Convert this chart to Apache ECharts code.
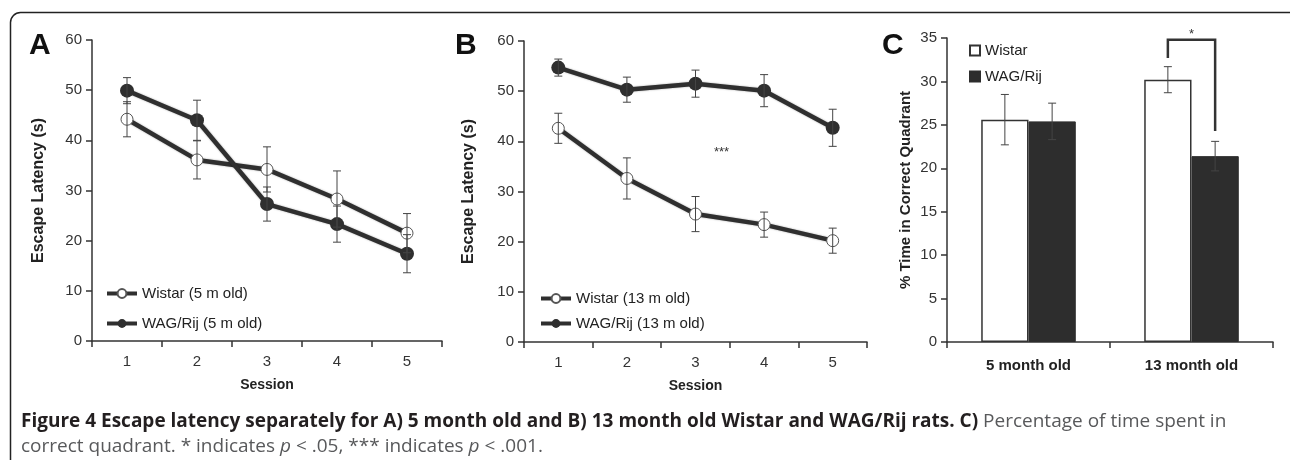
<!DOCTYPE html>
<html>
<head>
<meta charset="utf-8">
<script src="https://cdn.jsdelivr.net/npm/echarts@6/dist/echarts.min.js"></script>
<style>
html,body{margin:0;padding:0;background:#fff;}
#chart{width:1290px;height:460px;}
</style>
</head>
<body>
<div id="chart"></div>
<script>
// ---- data ----
const sessions = ['1', '2', '3', '4', '5'];
const latencyTicks = [0, 10, 20, 30, 40, 50, 60];

const aWistar = [44.2, 36.1, 34.2, 28.3, 21.5];
const aWistarErr = [3.5, 3.8, 4.5, 5.6, 3.9];
const aWag = [49.9, 44.0, 27.3, 23.3, 17.4];
const aWagErr = [2.6, 4.0, 3.4, 3.6, 3.8];

const bWistar = [42.6, 32.6, 25.5, 23.4, 20.2];
const bWistarErr = [3.0, 4.1, 3.5, 2.5, 2.5];
const bWag = [54.7, 50.3, 51.5, 50.1, 42.7];
const bWagErr = [1.7, 2.5, 2.7, 3.2, 3.7];

const ages = ['5 month old', '13 month old'];
const cWistar = [25.6, 30.2];
const cWistarErr = [2.9, 1.5];
const cWag = [25.4, 21.4];
const cWagErr = [2.1, 1.7];

// significance annotations
const sigB = { label: '***', category: 2, shift: 0.38, value: 37.8 };
const sigC = { label: '*', category: 1, top: 34.8, leftEnd: 32.7, rightEnd: 24.3 };

// ---- styling ----
const FONT = '"Liberation Sans", Arial, sans-serif';
const INK = '#2f2f2f';
const BAR_GAP_CAT = 0.42;

function errData(vals, errs) { return vals.map((v, i) => [i, v, errs[i]]); }

function errRender(offsetSign, cap) {
  return function (params, api) {
    const i = api.value(0), v = api.value(1), e = api.value(2);
    let dx = 0;
    if (offsetSign !== 0) {
      const band = api.size([1, 0])[0];
      dx = offsetSign * band * (1 - BAR_GAP_CAT) / 4;
    }
    const t = api.coord([i, v + e]), b = api.coord([i, v - e]);
    const x = t[0] + dx;
    const st = { stroke: '#444', lineWidth: 1 };
    return { type: 'group', children: [
      { type: 'line', shape: { x1: x, y1: t[1], x2: x, y2: b[1] }, style: st },
      { type: 'line', shape: { x1: x - cap, y1: t[1], x2: x + cap, y2: t[1] }, style: st },
      { type: 'line', shape: { x1: x - cap, y1: b[1], x2: x + cap, y2: b[1] }, style: st }
    ]};
  };
}

function lineSeries(name, data, idx, filled) {
  return {
    type: 'line', name: name, data: data, xAxisIndex: idx, yAxisIndex: idx,
    symbol: 'circle', symbolSize: filled ? 14 : 12,
    lineStyle: { color: INK, width: 4.5, shadowBlur: 2, shadowColor: 'rgba(0,0,0,0.35)' },
    itemStyle: filled ? { color: INK, borderColor: INK, borderWidth: 0 }
                      : { color: '#fff', borderColor: '#555', borderWidth: 1 },
    z: 3, animation: false
  };
}
function errSeries(vals, errs, idx, sign, cap) {
  return { type: 'custom', xAxisIndex: idx, yAxisIndex: idx, data: errData(vals, errs),
    renderItem: errRender(sign, cap), z: 5, silent: true, animation: false };
}

const axisLineStyle = { lineStyle: { color: '#333', width: 1.5 } };
const tickLabel = { color: '#333', fontSize: 15, fontFamily: FONT };

function latencyY(idx, gap) {
  return { type: 'value', gridIndex: idx, min: latencyTicks[0], max: latencyTicks[latencyTicks.length - 1], interval: 10,
    name: 'Escape Latency (s)', nameLocation: 'middle', nameGap: gap,
    nameTextStyle: { fontWeight: 'bold', fontSize: 16, color: '#222', fontFamily: FONT },
    axisLine: Object.assign({ show: true }, axisLineStyle), axisTick: { show: true, length: 6, lineStyle: { color: '#333', width: 1.5 } },
    axisLabel: Object.assign({ margin: 10 }, tickLabel), splitLine: { show: false } };
}
function sessionX(idx) {
  return { type: 'category', gridIndex: idx, data: sessions, boundaryGap: true,
    name: 'Session', nameLocation: 'middle', nameGap: 37,
    nameTextStyle: { fontWeight: 'bold', fontSize: 14, color: '#222', fontFamily: FONT },
    axisLine: axisLineStyle, axisTick: { show: true, length: 6, lineStyle: { color: '#333', width: 1.5 } },
    axisLabel: Object.assign({ margin: 13 }, tickLabel) };
}
const legendText = { fontSize: 15, color: '#222', fontFamily: FONT };

const option = {
  backgroundColor: '#fff',
  animation: false,
  textStyle: { fontFamily: FONT },
  grid: [
    { left: 92, top: 40, width: 350, height: 301 },
    { left: 524, top: 41, width: 343, height: 301 },
    { left: 947, top: 38, width: 326, height: 304 }
  ],
  xAxis: [
    sessionX(0),
    sessionX(1),
    { type: 'category', gridIndex: 2, data: ages, boundaryGap: true,
      axisLine: axisLineStyle, axisTick: { show: true, length: 6, lineStyle: { color: '#333', width: 1.5 } },
      axisLabel: { margin: 16, color: '#222', fontSize: 15, fontWeight: 'bold', fontFamily: FONT } }
  ],
  yAxis: [
    latencyY(0, 45),
    latencyY(1, 47),
    { type: 'value', gridIndex: 2, min: 0, max: 35, interval: 5,
      name: '% Time in Correct Quadrant', nameLocation: 'middle', nameGap: 34,
      nameTextStyle: { fontWeight: 'bold', fontSize: 15, color: '#222', fontFamily: FONT },
      axisLine: Object.assign({ show: true }, axisLineStyle), axisTick: { show: true, length: 6, lineStyle: { color: '#333', width: 1.5 } },
      axisLabel: Object.assign({ margin: 10 }, tickLabel), splitLine: { show: false } }
  ],
  legend: [
    { data: ['Wistar (5 m old)', 'WAG/Rij (5 m old)'], orient: 'vertical', left: 100, top: 281,
      itemWidth: 30, itemHeight: 11, itemGap: 15, lineStyle: { width: 4 }, textStyle: legendText },
    { data: ['Wistar (13 m old)', 'WAG/Rij (13 m old)'], orient: 'vertical', left: 534, top: 286,
      itemWidth: 30, itemHeight: 11, itemGap: 10, lineStyle: { width: 4 }, textStyle: legendText },
    { data: ['Wistar', 'WAG/Rij'], orient: 'vertical', left: 964, top: 38, icon: 'rect',
      itemWidth: 10, itemHeight: 10, itemGap: 11, textStyle: legendText }
  ],
  series: [
    lineSeries('Wistar (5 m old)', aWistar, 0, false),
    lineSeries('WAG/Rij (5 m old)', aWag, 0, true),
    errSeries(aWistar, aWistarErr, 0, 0, 4),
    errSeries(aWag, aWagErr, 0, 0, 4),

    lineSeries('Wistar (13 m old)', bWistar, 1, false),
    lineSeries('WAG/Rij (13 m old)', bWag, 1, true),
    errSeries(bWistar, bWistarErr, 1, 0, 4),
    errSeries(bWag, bWagErr, 1, 0, 4),
    { type: 'custom', xAxisIndex: 1, yAxisIndex: 1, data: [[sigB.category, sigB.value]], silent: true, z: 6,
      renderItem: function (params, api) {
        const p = api.coord([api.value(0), api.value(1)]);
        const band = api.size([1, 0])[0];
        return { type: 'text', style: { x: p[0] + sigB.shift * band, y: p[1], text: sigB.label, fill: '#333',
          font: '13px ' + FONT, align: 'center', verticalAlign: 'middle' } };
      } },

    { type: 'bar', name: 'Wistar', data: cWistar, xAxisIndex: 2, yAxisIndex: 2,
      barGap: '0%', barCategoryGap: (BAR_GAP_CAT * 100) + '%',
      itemStyle: { color: '#fff', borderColor: '#333', borderWidth: 1.5 }, z: 2 },
    { type: 'bar', name: 'WAG/Rij', data: cWag, xAxisIndex: 2, yAxisIndex: 2,
      barGap: '0%', barCategoryGap: (BAR_GAP_CAT * 100) + '%',
      itemStyle: { color: '#2d2d2d', borderColor: '#2d2d2d', borderWidth: 1 }, z: 2 },
    errSeries(cWistar, cWistarErr, 2, -1, 4),
    errSeries(cWag, cWagErr, 2, 1, 4),
    { type: 'custom', xAxisIndex: 2, yAxisIndex: 2, silent: true, z: 6,
      data: [[sigC.category, sigC.top, sigC.leftEnd, sigC.rightEnd]],
      renderItem: function (params, api) {
        const c = api.value(0);
        const band = api.size([1, 0])[0];
        const off = band * (1 - BAR_GAP_CAT) / 4;
        const cx = api.coord([c, 0])[0];
        const yt = api.coord([c, api.value(1)])[1];
        const yl = api.coord([c, api.value(2)])[1];
        const yr = api.coord([c, api.value(3)])[1];
        return { type: 'group', children: [
          { type: 'polyline', shape: { points: [[cx - off, yl], [cx - off, yt], [cx + off, yt], [cx + off, yr]] },
            style: { stroke: '#333', lineWidth: 2.5, fill: null } },
          { type: 'text', style: { x: cx, y: yt - 5, text: sigC.label, fill: '#333', font: '13px ' + FONT,
            align: 'center', verticalAlign: 'middle' } }
        ]};
      } }
  ],
  graphic: [
    { type: 'rect', shape: { x: 10.5, y: 12.5, width: 1300, height: 470, r: 10 },
      style: { stroke: '#222', lineWidth: 1.5, fill: null }, silent: true },
    { type: 'text', left: 29, top: 31, style: { text: 'A', font: 'bold 30px ' + FONT, fill: '#111' } },
    { type: 'text', left: 455, top: 31, style: { text: 'B', font: 'bold 30px ' + FONT, fill: '#111' } },
    { type: 'text', left: 882, top: 31, style: { text: 'C', font: 'bold 30px ' + FONT, fill: '#111' } },
    { type: 'text', left: 21, top: 409, style: {
        text: '{b|Figure 4 Escape latency separately for A) 5 month old and B) 13 month old Wistar and WAG/Rij rats. C)}{r| Percentage of time spent in}\n' +
              '{r|correct quadrant. * indicates }{ri|p}{r| < .05, *** indicates }{ri|p}{r| < .001.}',
        font: '19px "Open Sans", sans-serif',
        lineHeight: 25,
        rich: {
          b: { fontFamily: '"Open Sans", sans-serif', fontWeight: 'bold', fontSize: 19, fill: '#231f20', lineHeight: 25 },
          r: { fontFamily: '"Open Sans", sans-serif', fontSize: 19, fill: '#58595b', lineHeight: 25 },
          ri: { fontFamily: '"Open Sans", sans-serif', fontSize: 19, fontStyle: 'italic', fill: '#58595b', lineHeight: 25 }
        } } }
  ]
};

const chart = echarts.init(document.getElementById('chart'), null, { renderer: 'canvas' });
chart.setOption(option);
</script>
</body>
</html>
